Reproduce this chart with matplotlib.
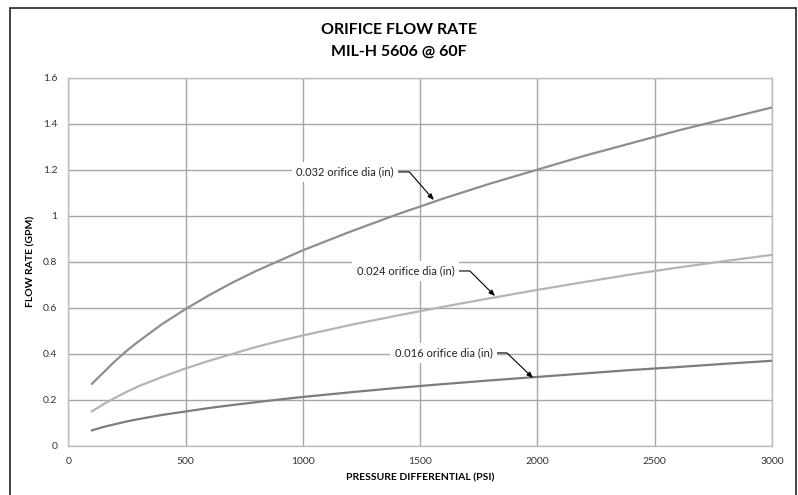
import matplotlib
matplotlib.use("Agg")
import matplotlib.pyplot as plt
from matplotlib.patches import Rectangle

plt.rcParams['font.family'] = ['Lato', 'DejaVu Sans']

# pressure differential (psi)
pressure = [100, 150, 200, 250, 300, 400, 500, 600, 700, 800, 900, 1000,
            1200, 1400, 1600, 1800, 2000, 2200, 2400, 2600, 2800, 3000]

# flow rate (gpm) per orifice diameter
flow_032 = [0.27, 0.32, 0.37, 0.415, 0.455, 0.53, 0.595, 0.655, 0.71, 0.76, 0.805, 0.85,
            0.93, 1.005, 1.075, 1.14, 1.20, 1.26, 1.315, 1.37, 1.42, 1.47]
flow_024 = [0.15, 0.182, 0.21, 0.236, 0.26, 0.30, 0.337, 0.37, 0.40, 0.43, 0.456, 0.48,
            0.525, 0.566, 0.605, 0.642, 0.678, 0.712, 0.745, 0.775, 0.803, 0.83]
flow_016 = [0.068, 0.083, 0.095, 0.107, 0.117, 0.135, 0.15, 0.165, 0.178, 0.19, 0.202, 0.213,
            0.233, 0.252, 0.269, 0.285, 0.30, 0.315, 0.33, 0.343, 0.357, 0.37]

labels = ["0.032 orifice dia (in)", "0.024 orifice dia (in)", "0.016 orifice dia (in)"]
x_ticks = [0, 500, 1000, 1500, 2000, 2500, 3000]
y_ticks = [0, 0.2, 0.4, 0.6, 0.8, 1, 1.2, 1.4, 1.6]
y_tick_labels = ["0", "0.2", "0.4", "0.6", "0.8", "1", "1.2", "1.4", "1.6"]

fig = plt.figure(figsize=(7.98, 4.95), dpi=100)
ax = fig.add_axes([0.0858, 0.099, 0.8816, 0.7444])

series = [
    (flow_032, "#8e8e8e"),
    (flow_024, "#b4b4b4"),
    (flow_016, "#7c7c7c"),
]
for values, color in series:
    ax.plot(pressure, values, color=color, lw=1.6, zorder=3, solid_joinstyle="round")

ax.set_xlim(0, 3000)
ax.set_ylim(0, 1.6)
ax.set_xticks(x_ticks)
ax.set_yticks(y_ticks)
ax.set_yticklabels(y_tick_labels)
ax.tick_params(length=0, labelsize=7.5, colors="#333333", pad=8)
ax.grid(True, color="#a6a6a6", lw=1.0)
ax.set_axisbelow(True)
for s in ax.spines.values():
    s.set_color("#bdbdbd")
    s.set_linewidth(1.0)

ax.set_xlabel("PRESSURE DIFFERENTIAL (PSI)", fontsize=7.5, fontweight="bold", labelpad=5)
ax.set_ylabel("FLOW RATE (GPM)", fontsize=7.5, fontweight="bold", labelpad=5)

fig.text(0.5, 0.94, "ORIFICE FLOW RATE", ha="center", va="center", fontsize=11.5, fontweight="bold")
fig.text(0.5, 0.895, "MIL-H 5606 @ 60F", ha="center", va="center", fontsize=11.5, fontweight="bold")

# callouts: (text center, arrow tip, angle of the diagonal leg)
callouts = [
    ((1179, 1.19), (1558, 1.068), 131),
    ((1437, 0.760), (1819, 0.651), 135),
    ((1599, 0.404), (1981, 0.295), 136),
]
for label, (txt_xy, tip_xy, ang) in zip(labels, callouts):
    ax.annotate(
        label, xy=tip_xy, xytext=txt_xy, ha="center", va="center",
        fontsize=8, color="#222222", zorder=5,
        bbox=dict(boxstyle="square,pad=0.4", fc="white", ec="none"),
        arrowprops=dict(arrowstyle="-|>,head_length=0.45,head_width=0.18",
                        color="black", lw=0.8, relpos=(1, 0.5),
                        shrinkA=0, shrinkB=0,
                        connectionstyle=f"angle,angleA=0,angleB={ang},rad=0"),
    )

# outer frame
fig.patches.append(Rectangle((10 / 798, -0.05), 786 / 798, 1.05 - 8 / 495,
                             transform=fig.transFigure, fill=False,
                             edgecolor="#222222", lw=1.2))

fig.savefig("out.png", dpi=100)
